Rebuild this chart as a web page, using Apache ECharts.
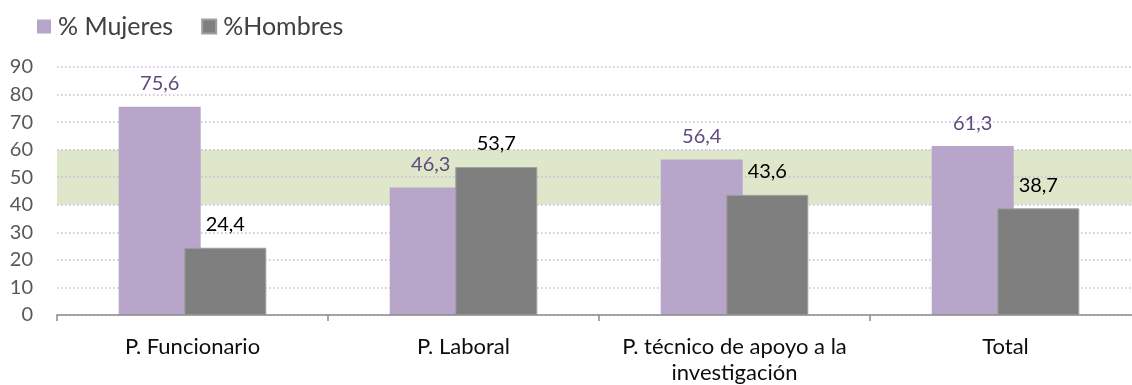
<!DOCTYPE html>
<html>
<head>
<meta charset="utf-8">
<script src="https://cdn.jsdelivr.net/npm/echarts@6/dist/echarts.min.js"></script>
<style>
  html, body { margin: 0; padding: 0; background: #ffffff; overflow: hidden; }
  #chart { width: 1132px; height: 385px; }
</style>
</head>
<body>
<div id="chart"></div>
<script>
// Staff categories and the share of women / men in each (%)
const categories = [
  'P. Funcionario',
  'P. Laboral',
  'P. técnico de apoyo a la\ninvestigación',
  'Total'
];
const seriesNames = ['% Mujeres', '%Hombres'];
const mujeres = [75.6, 46.3, 56.4, 61.3];
const hombres = [24.4, 53.7, 43.6, 38.7];
// Parity band (40–60 %)
const bandRange = [40, 60];
const yTicks = { min: 0, max: 90, interval: 10 };

const FONT = 'Lato, "Open Sans", sans-serif';
const fmt = v => String(v.value).replace('.', ',');

const chart = echarts.init(document.getElementById('chart'), null, { renderer: 'canvas' });

chart.setOption({
  animation: false,
  textStyle: { fontFamily: FONT },
  legend: {
    left: 37,
    top: 14,
    padding: 0,
    itemWidth: 14,
    itemHeight: 14,
    itemGap: 28,
    icon: 'rect',
    textStyle: { fontSize: 25, color: '#404040', fontFamily: FONT, padding: [0, 0, 0, 2] },
    data: seriesNames
  },
  // the last category runs slightly past the right edge of the canvas
  grid: {
    left: 57, width: 1084, top: 67, bottom: 70,
    containLabel: false,
    outerBoundsMode: 'none'
  },
  xAxis: {
    type: 'category',
    data: categories,
    z: 3,
    axisLine: { lineStyle: { color: '#8c8c8c', width: 1.5 } },
    axisTick: { show: true, length: 6, lineStyle: { color: '#8c8c8c', width: 1.5 } },
    axisLabel: {
      margin: 19,
      fontSize: 22,
      lineHeight: 26,
      color: '#0d0d0d',
      fontFamily: FONT,
      interval: 0
    },
    splitLine: { show: false }
  },
  yAxis: {
    type: 'value',
    min: yTicks.min,
    max: yTicks.max,
    interval: yTicks.interval,
    z: 1,
    axisLine: { show: false },
    axisTick: { show: false },
    axisLabel: { margin: 24, fontSize: 20, color: '#595959', fontFamily: FONT },
    splitLine: {
      show: true,
      lineStyle: { color: '#c6b6da', width: 1.5, type: [1.5, 2.5] }
    }
  },
  series: [
    {
      name: seriesNames[0],
      type: 'bar',
      data: mujeres,
      barWidth: 82,
      barGap: '-20%',
      z: 2,
      itemStyle: { color: '#b7a6ca' },
      label: {
        show: true,
        position: 'top',
        distance: 13,
        fontSize: 20,
        color: '#5f4a7d',
        fontFamily: FONT,
        formatter: fmt
      },
      markArea: {
        silent: true,
        z: 0,
        itemStyle: { color: '#dfe7ca' },
        data: [[{ yAxis: bandRange[0] }, { yAxis: bandRange[1] }]]
      }
    },
    {
      name: seriesNames[1],
      type: 'bar',
      data: hombres,
      barWidth: 82,
      barGap: '-20%',
      z: 2,
      itemStyle: { color: '#7f7f7f', borderColor: '#a0a0a0', borderWidth: 1 },
      label: {
        show: true,
        position: 'top',
        distance: 13,
        fontSize: 20,
        color: '#000000',
        fontFamily: FONT,
        formatter: fmt
      }
    }
  ]
});
</script>
</body>
</html>
